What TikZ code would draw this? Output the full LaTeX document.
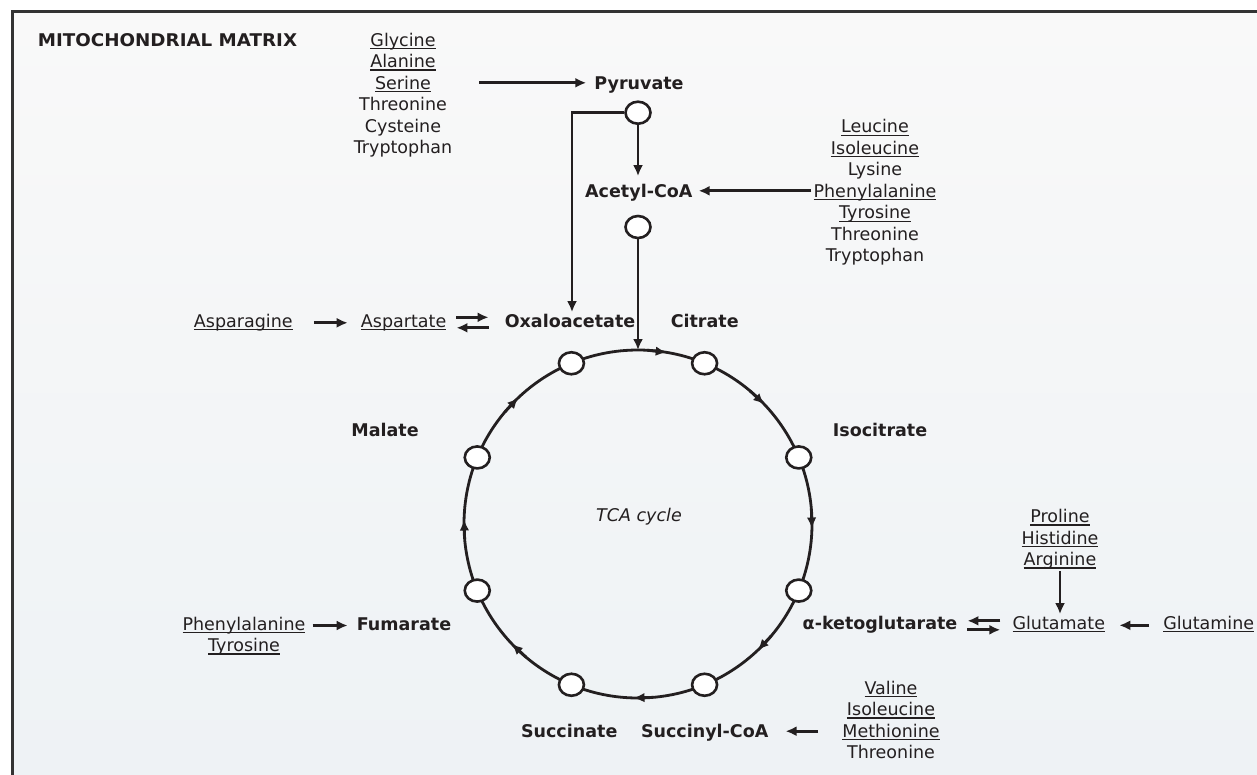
\documentclass[tikz,border=0pt]{standalone}
\usepackage{fontspec}
\setmainfont{DejaVu Sans}
\usetikzlibrary{arrows.meta,shapes.geometric}
\definecolor{ink}{HTML}{231F20}
\definecolor{framec}{HTML}{333333}
\definecolor{bgtop}{RGB}{249,249,249}
\definecolor{bgbot}{RGB}{238,242,245}
\newcommand{\ulx}[1]{\setbox0=\hbox{#1}\rlap{\rule[-3pt]{\wd0}{1.3pt}}\box0}
\begin{document}
\begin{tikzpicture}[x=1pt,y=-1pt,
  every node/.style={text=ink},
  lab/.style={inner sep=2pt, text height=13pt, text depth=0pt, font=\fontsize{17.5}{21.5}\selectfont},
  blab/.style={lab, font=\fontsize{17.5}{21.5}\selectfont\bfseries},
  ilab/.style={lab, font=\fontsize{17.5}{21.5}\selectfont\itshape},
  list/.style={inner sep=2pt, align=center, anchor=north, font=\fontsize{17.5}{21.5}\selectfont},
  arr/.style={draw=ink, line width=2.8pt, -{Latex[length=11pt,width=10pt]}},
  carr/.style={draw=ink, line width=2.8pt, -{Latex[length=11pt,width=9.5pt]}},
  ring/.style={draw=ink, line width=2.6pt, fill=white, ellipse, minimum width=25pt, minimum height=22pt, inner sep=0pt}]
\useasboundingbox (0,0) rectangle (1257,774);
\fill[white] (0,0) rectangle (1257,774);
\shade[top color=bgtop, bottom color=bgbot] (12.5,11.5) rectangle (1257,774);
\draw[framec, line width=3pt] (12.5,780) -- (12.5,11.5) -- (1262,11.5);

% texts
\node[blab, anchor=west, font=\fontsize{17.5}{21.5}\selectfont\bfseries\addfontfeature{FakeStretch=1.045}] (title) at (35.7,39.5) {MITOCHONDRIAL MATRIX};
\node[list] (llist) at (403,30.7) {\ulx{Glycine}\\\ulx{Alanine}\\\ulx{Serine}\\Threonine\\Cysteine\\Tryptophan};
\node[blab] (pyr) at (639,82.8) {Pyruvate};
\node[blab] (acoa) at (638.8,190.8) {Acetyl-CoA};
\node[list] (rlist) at (875,117.4) {\ulx{Leucine}\\\ulx{Isoleucine}\\Lysine\\\ulx{Phenylalanine}\\\ulx{Tyrosine}\\Threonine\\Tryptophan};
\node[lab] (asn) at (243.3,320.8) {\ulx{Asparagine}};
\node[lab] (asp) at (403.6,320.8) {\ulx{Aspartate}};
\node[blab] (oaa) at (570,320.8) {Oxaloacetate};
\node[blab] (cit) at (704.7,320.8) {Citrate};
\node[blab] (mal) at (385,430) {Malate};
\node[blab] (iso) at (880,430) {Isocitrate};
\node[ilab] (tca) at (639,515.2) {TCA cycle};
\node[list] (pro) at (1060,507) {\ulx{Proline}\\\ulx{Histidine}\\\ulx{Arginine}};
\node[blab] (akg) at (880,622.8) {α-ketoglutarate};
\node[lab] (glu) at (1058.8,622.8) {\ulx{Glutamate}};
\node[lab] (gln) at (1208.7,622.8) {\ulx{Glutamine}};
\node[blab] (fum) at (404,623.5) {Fumarate};
\node[list] (phety) at (244,614.7) {\ulx{Phenylalanine}\\\ulx{Tyrosine}};
\node[blab] (suc) at (569.2,731.2) {Succinate};
\node[blab] (sco) at (704.7,731.2) {Succinyl-CoA};
\node[list] (val) at (891,678.7) {\ulx{Valine}\\\ulx{Isoleucine}\\\ulx{Methionine}\\Threonine};

% cycle
\draw[draw=ink, line width=2.8pt] (638,524) circle[radius=174pt];
\foreach \a in {82,45,0,-45,-90,-135,180,135}
  \draw[carr] ({638+174*cos(\a+5)},{524-174*sin(\a+5)}) -- ({638+174*cos(\a-1.5)},{524-174*sin(\a-1.5)});
\coordinate (top) at (638,350);

% side rings
\node[ring] (pc) at (638,112.7) {};
\node[ring] (ac) at (638,227) {};
\foreach \n/\a in {oa/112.5, ci/67.5, is/22.5, ak/-22.5, sc/-67.5, su/-112.5, fu/-157.5, ma/157.5}
  \node[ring] (r\n) at ({638+174*cos(\a)},{524-174*sin(\a)}) {};

% connectors
\draw[arr, shorten <=25pt, shorten >=6pt] (llist.east |- pyr.west) -- (pyr.west);
\draw[arr, shorten >=6pt] (pc.south) -- (pc.south |- acoa.north);
\draw[arr] (pc.west) -| ([xshift=2pt]oaa.north);
\draw[arr] (ac.south) -- (top);
\draw[arr, shorten >=4pt] (rlist.west |- acoa.east) -- (acoa.east);
\draw[arr, shorten <=19pt, shorten >=11pt] ([yshift=-2pt]asn.east) -- ([yshift=-2pt]asp.west);
\draw[arr, shorten <=8pt, shorten >=14pt] ([yshift=3.5pt]asp.east) -- ([yshift=3.5pt]oaa.west);
\draw[arr, shorten <=14pt, shorten >=8pt] ([yshift=-7pt]oaa.west) -- ([yshift=-7pt]asp.east);
\draw[arr] (pro.south) -- (pro.south |- glu.north);
\draw[arr, shorten <=10pt, shorten >=8pt] ([yshift=2pt]glu.west) -- ([yshift=2pt]akg.east);
\draw[arr, shorten <=8pt, shorten >=10pt] ([yshift=-7pt]akg.east) -- ([yshift=-7pt]glu.west);
\draw[arr, shorten <=12pt, shorten >=12pt] ([yshift=-2.5pt]gln.west) -- ([yshift=-2.5pt]glu.east);
\draw[arr, shorten <=5pt, shorten >=7pt] ([yshift=-2pt]phety.east |- fum.west) -- ([yshift=-2pt]fum.west);
\draw[arr, shorten <=22pt, shorten >=15pt] (val.west |- sco.east) -- (sco.east);
\end{tikzpicture}
\end{document}
